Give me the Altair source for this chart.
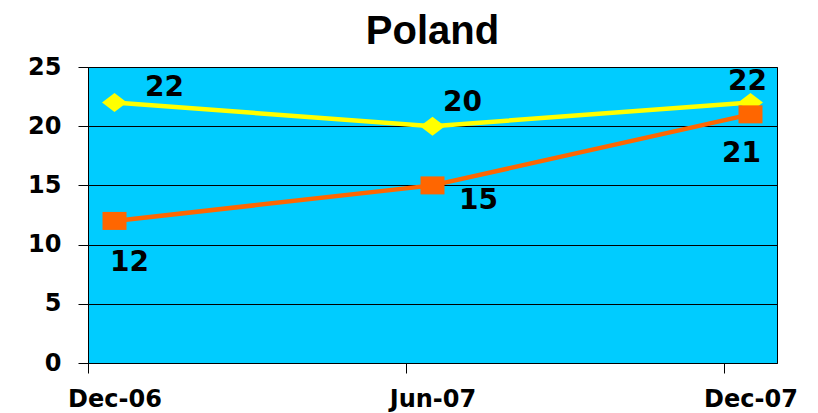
import altair as alt
import pandas as pd

categories = ["Dec-06", "Jun-07", "Dec-07"]
yellow_values = [22, 20, 22]
orange_values = [12, 15, 21]
y_ticks = [0, 5, 10, 15, 20, 25]

dates = pd.to_datetime(categories, format="%b-%y")
months = [(d.year - dates[0].year) * 12 + (d.month - dates[0].month) for d in dates]
span = months[-1] + 1  # monthly slots on the date axis

df = pd.DataFrame({
    "cat": categories,
    "m": [m + 0.5 for m in months],
    "yellow": yellow_values,
    "orange": orange_values,
})

W, H = 689, 296

label_expr = "".join(
    f"datum.value == {m} ? '{c}' : " for m, c in zip(months, categories)
) + "''"

x_enc = alt.X(
    "m:Q",
    scale=alt.Scale(domain=[0, span], nice=False, zero=False),
    axis=alt.Axis(
        values=months, labelExpr=label_expr, title=None, grid=False,
        labelFontSize=24, labelPadding=14, labelOffset=W / span / 2,
        labelAlign="center", labelBaseline="top",
    ),
)
y_axis = alt.Axis(values=y_ticks, title=None, grid=True, labelPadding=17)
y_scale = alt.Scale(domain=[0, 25], nice=False)

base = alt.Chart(df)

diamond = "M-1,0L0,-0.76L1,0L0,0.76Z"
rect = "M-1,-0.75L1,-0.75L1,0.75L-1,0.75Z"

yellow_line = base.mark_line(color="#FFFF00", strokeWidth=4.5).encode(
    x=x_enc, y=alt.Y("yellow:Q", scale=y_scale, axis=y_axis))
yellow_pts = base.mark_point(shape=diamond, size=625, filled=True, color="#FFFF00", opacity=1).encode(
    x=x_enc, y=alt.Y("yellow:Q", scale=y_scale, axis=y_axis))
orange_line = base.mark_line(color="#FF6600", strokeWidth=4.5).encode(
    x=x_enc, y=alt.Y("orange:Q", scale=y_scale, axis=y_axis))
orange_pts = base.mark_point(shape=rect, size=576, filled=True, color="#FF6600", opacity=1).encode(
    x=x_enc, y=alt.Y("orange:Q", scale=y_scale, axis=y_axis))

label_offsets = {
    "yellow": [(50, -15), (30, -23), (-3, -21)],
    "orange": [(15, 42), (46, 16), (-9, 40)],
}
labels = []
for series, offs in label_offsets.items():
    for cat, (dx, dy) in zip(categories, offs):
        labels.append(
            base.transform_filter(alt.datum.cat == cat)
            .mark_text(dx=dx, dy=dy, font="DejaVu Sans", fontSize=28, fontWeight="bold",
                       color="black", align="center", baseline="middle")
            .encode(x=x_enc, y=alt.Y(f"{series}:Q", scale=y_scale, axis=y_axis),
                    text=alt.Text(f"{series}:Q"))
        )

chart = alt.layer(yellow_line, yellow_pts, orange_line, orange_pts, *labels).properties(
    width=W, height=H,
    title=alt.TitleParams("Poland", font="Liberation Sans", fontSize=40, fontWeight="bold",
                          color="black", offset=3, anchor="middle"),
    autosize=alt.AutoSizeParams(type="none"),
    padding={"left": 80, "top": 59, "right": 30, "bottom": 49},
).configure_view(
    fill="#00CCFF", stroke="black", strokeWidth=1
).configure_axis(
    labelFont="DejaVu Sans", labelFontWeight="bold", labelFontSize=24, labelColor="black",
    domainColor="black", domainWidth=1, tickColor="black", tickSize=10, tickWidth=1,
    gridColor="black", gridWidth=1, gridOpacity=1,
)

chart.save("out.html", embed_options={"renderer": "svg", "actions": False})
